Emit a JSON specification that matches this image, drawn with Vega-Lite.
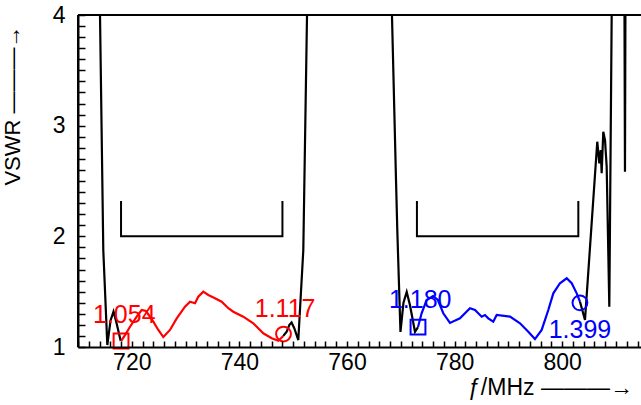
{
  "$schema": "https://vega.github.io/schema/vega-lite/v6.json",
  "width": 563,
  "height": 332,
  "autosize": {"type": "none"},
  "padding": {"left": 78, "top": 15, "right": 0, "bottom": 58},
  "background": "white",
  "config": {
    "view": {"stroke": null, "fill": null},
    "font": "Liberation Sans"
  },
  "datasets": {
    "curve": [
      {"s": "k1", "c": "black", "f": 713.95, "v": 4.5},
      {"s": "k1", "c": "black", "f": 714.09, "v": 4.0},
      {"s": "k1", "c": "black", "f": 714.7, "v": 1.876},
      {"s": "k1", "c": "black", "f": 715.45, "v": 1.018},
      {"s": "k1", "c": "black", "f": 716.05, "v": 1.24},
      {"s": "k1", "c": "black", "f": 716.6, "v": 1.32},
      {"s": "k1", "c": "black", "f": 717.15, "v": 1.22},
      {"s": "k1", "c": "black", "f": 717.94, "v": 1.054},
      {"s": "r", "c": "#ff0000", "f": 718.0, "v": 1.054},
      {"s": "r", "c": "#ff0000", "f": 718.74, "v": 1.108},
      {"s": "r", "c": "#ff0000", "f": 719.67, "v": 1.183},
      {"s": "r", "c": "#ff0000", "f": 720.91, "v": 1.274},
      {"s": "r", "c": "#ff0000", "f": 721.84, "v": 1.334},
      {"s": "r", "c": "#ff0000", "f": 722.64, "v": 1.325},
      {"s": "r", "c": "#ff0000", "f": 724.0, "v": 1.229},
      {"s": "r", "c": "#ff0000", "f": 724.93, "v": 1.154},
      {"s": "r", "c": "#ff0000", "f": 725.86, "v": 1.09},
      {"s": "r", "c": "#ff0000", "f": 727.1, "v": 1.154},
      {"s": "r", "c": "#ff0000", "f": 728.35, "v": 1.259},
      {"s": "r", "c": "#ff0000", "f": 729.89, "v": 1.364},
      {"s": "r", "c": "#ff0000", "f": 730.82, "v": 1.409},
      {"s": "r", "c": "#ff0000", "f": 731.75, "v": 1.395},
      {"s": "r", "c": "#ff0000", "f": 732.36, "v": 1.455},
      {"s": "r", "c": "#ff0000", "f": 733.29, "v": 1.5},
      {"s": "r", "c": "#ff0000", "f": 734.22, "v": 1.47},
      {"s": "r", "c": "#ff0000", "f": 735.46, "v": 1.44},
      {"s": "r", "c": "#ff0000", "f": 736.71, "v": 1.409},
      {"s": "r", "c": "#ff0000", "f": 737.94, "v": 1.35},
      {"s": "r", "c": "#ff0000", "f": 738.87, "v": 1.319},
      {"s": "r", "c": "#ff0000", "f": 740.72, "v": 1.274},
      {"s": "r", "c": "#ff0000", "f": 742.58, "v": 1.214},
      {"s": "r", "c": "#ff0000", "f": 744.44, "v": 1.124},
      {"s": "r", "c": "#ff0000", "f": 746.0, "v": 1.079},
      {"s": "r", "c": "#ff0000", "f": 747.23, "v": 1.057},
      {"s": "r", "c": "#ff0000", "f": 748.16, "v": 1.1},
      {"s": "k2", "c": "black", "f": 748.16, "v": 1.1},
      {"s": "k2", "c": "black", "f": 748.79, "v": 1.138},
      {"s": "k2", "c": "black", "f": 749.3, "v": 1.2},
      {"s": "k2", "c": "black", "f": 749.7, "v": 1.222},
      {"s": "k2", "c": "black", "f": 750.2, "v": 1.17},
      {"s": "k2", "c": "black", "f": 750.95, "v": 1.063},
      {"s": "k2", "c": "black", "f": 751.88, "v": 1.876},
      {"s": "k2", "c": "black", "f": 752.57, "v": 4.0},
      {"s": "k2", "c": "black", "f": 752.7, "v": 4.5},
      {"s": "k3", "c": "black", "f": 768.25, "v": 4.5},
      {"s": "k3", "c": "black", "f": 768.36, "v": 4.0},
      {"s": "k3", "c": "black", "f": 769.11, "v": 2.51},
      {"s": "k3", "c": "black", "f": 769.35, "v": 2.057},
      {"s": "k3", "c": "black", "f": 769.94, "v": 1.136},
      {"s": "k3", "c": "black", "f": 770.5, "v": 1.4},
      {"s": "k3", "c": "black", "f": 771.1, "v": 1.497},
      {"s": "k3", "c": "black", "f": 771.7, "v": 1.38},
      {"s": "k3", "c": "black", "f": 772.64, "v": 1.138},
      {"s": "k3", "c": "black", "f": 773.2, "v": 1.18},
      {"s": "b", "c": "#0000ff", "f": 773.2, "v": 1.18},
      {"s": "b", "c": "#0000ff", "f": 773.87, "v": 1.305},
      {"s": "b", "c": "#0000ff", "f": 774.81, "v": 1.425},
      {"s": "b", "c": "#0000ff", "f": 775.98, "v": 1.46},
      {"s": "b", "c": "#0000ff", "f": 776.9, "v": 1.425},
      {"s": "b", "c": "#0000ff", "f": 777.9, "v": 1.305},
      {"s": "b", "c": "#0000ff", "f": 779.14, "v": 1.217},
      {"s": "b", "c": "#0000ff", "f": 781.0, "v": 1.259},
      {"s": "b", "c": "#0000ff", "f": 782.86, "v": 1.35},
      {"s": "b", "c": "#0000ff", "f": 783.79, "v": 1.334},
      {"s": "b", "c": "#0000ff", "f": 785.04, "v": 1.274},
      {"s": "b", "c": "#0000ff", "f": 785.65, "v": 1.289},
      {"s": "b", "c": "#0000ff", "f": 786.26, "v": 1.259},
      {"s": "b", "c": "#0000ff", "f": 787.19, "v": 1.229},
      {"s": "b", "c": "#0000ff", "f": 787.82, "v": 1.289},
      {"s": "b", "c": "#0000ff", "f": 790.3, "v": 1.274},
      {"s": "b", "c": "#0000ff", "f": 792.16, "v": 1.214},
      {"s": "b", "c": "#0000ff", "f": 793.7, "v": 1.138},
      {"s": "b", "c": "#0000ff", "f": 794.94, "v": 1.072},
      {"s": "b", "c": "#0000ff", "f": 796.19, "v": 1.154},
      {"s": "b", "c": "#0000ff", "f": 797.42, "v": 1.334},
      {"s": "b", "c": "#0000ff", "f": 798.35, "v": 1.485},
      {"s": "b", "c": "#0000ff", "f": 799.59, "v": 1.576},
      {"s": "b", "c": "#0000ff", "f": 800.84, "v": 1.621},
      {"s": "b", "c": "#0000ff", "f": 801.77, "v": 1.576},
      {"s": "b", "c": "#0000ff", "f": 802.7, "v": 1.485},
      {"s": "b", "c": "#0000ff", "f": 803.31, "v": 1.409},
      {"s": "k4", "c": "black", "f": 803.31, "v": 1.409},
      {"s": "k4", "c": "black", "f": 804.24, "v": 1.244},
      {"s": "k4", "c": "black", "f": 806.52, "v": 2.855},
      {"s": "k4", "c": "black", "f": 806.9, "v": 2.66},
      {"s": "k4", "c": "black", "f": 807.16, "v": 2.78},
      {"s": "k4", "c": "black", "f": 807.34, "v": 2.57},
      {"s": "k4", "c": "black", "f": 807.64, "v": 2.945},
      {"s": "k4", "c": "black", "f": 807.96, "v": 2.87},
      {"s": "k4", "c": "black", "f": 808.27, "v": 2.63},
      {"s": "k4", "c": "black", "f": 808.76, "v": 1.364},
      {"s": "k4", "c": "black", "f": 809.2, "v": 4.0},
      {"s": "k4", "c": "black", "f": 809.3, "v": 4.5},
      {"s": "k4", "c": "black", "f": 811.55, "v": 4.5},
      {"s": "k4", "c": "black", "f": 811.67, "v": 2.584},
      {"s": "k4", "c": "black", "f": 811.78, "v": 4.5}
    ],
    "frame": [
      {"s": "top", "o": 1, "f": 710, "v": 4},
      {"s": "top", "o": 2, "f": 814.65, "v": 4},
      {"s": "left", "o": 1, "f": 710, "v": 1},
      {"s": "left", "o": 2, "f": 710, "v": 4}
    ],
    "brackets": [
      {"b": "L", "o": 1, "f": 718, "v": 2.32},
      {"b": "L", "o": 2, "f": 718, "v": 2.0},
      {"b": "L", "o": 3, "f": 748, "v": 2.0},
      {"b": "L", "o": 4, "f": 748, "v": 2.32},
      {"b": "R", "o": 1, "f": 773, "v": 2.32},
      {"b": "R", "o": 2, "f": 773, "v": 2.0},
      {"b": "R", "o": 3, "f": 803, "v": 2.0},
      {"b": "R", "o": 4, "f": 803, "v": 2.32}
    ],
    "markers": [
      {"f": 718.0, "v": 1.054, "shape": "square", "c": "#ff0000"},
      {"f": 748.2, "v": 1.117, "shape": "circle", "c": "#ff0000"},
      {"f": 773.2, "v": 1.18, "shape": "square", "c": "#0000ff"},
      {"f": 803.3, "v": 1.399, "shape": "circle", "c": "#0000ff"}
    ],
    "labels": [
      {"f": 718.6, "v": 1.217, "t": "1.054", "c": "#ff0000"},
      {"f": 748.5, "v": 1.274, "t": "1.117", "c": "#ff0000"},
      {"f": 773.6, "v": 1.35, "t": "1.180", "c": "#0000ff"},
      {"f": 803.3, "v": 1.079, "t": "1.399", "c": "#0000ff"}
    ]
  },
  "encoding": {
    "x": {
      "field": "f", "type": "quantitative",
      "scale": {"domain": [710, 814.65], "nice": false, "zero": false},
      "axis": {
        "values": [710,712,714,716,718,720,722,724,726,728,730,732,734,736,738,740,742,744,746,748,750,752,754,756,758,760,762,764,766,768,770,772,774,776,778,780,782,784,786,788,790,792,794,796,798,800,802,804,806,808,810,812,814],
        "labelExpr": "datum.value % 20 === 0 ? '' + datum.value : ''",
        "zindex": 1,
        "grid": false,
        "domain": true, "domainColor": "#000000", "domainWidth": 2,
        "ticks": true, "tickSize": -6, "tickColor": "#000000", "tickWidth": 1.5,
        "labelFont": "Liberation Sans", "labelFontSize": 23, "labelColor": "#000000",
        "labelPadding": 10, "labelOverlap": false, "labelFlush": false, "labelBound": false,
        "title": "ƒ/MHz ———→",
        "titleFont": "Liberation Sans", "titleFontWeight": "normal", "titleColor": "#000000",
        "titleFontSize": 23,
        "titleX": 472, "titleY": 29, "titleBaseline": "top", "titleAlign": "center"
      }
    },
    "y": {
      "field": "v", "type": "quantitative",
      "scale": {"domain": [1, 4], "nice": false, "zero": false},
      "axis": {
        "values": [1,1.1,1.2,1.3,1.4,1.5,1.6,1.7,1.8,1.9,2,2.1,2.2,2.3,2.4,2.5,2.6,2.7,2.8,2.9,3,3.1,3.2,3.3,3.4,3.5,3.6,3.7,3.8,3.9,4],
        "labelExpr": "abs(datum.value - round(datum.value)) < 0.001 ? format(datum.value, 'd') : ''",
        "zindex": 1,
        "grid": false,
        "domain": true, "domainColor": "#000000", "domainWidth": 2,
        "ticks": true, "tickSize": -7, "tickColor": "#000000", "tickWidth": 1.5,
        "labelFont": "Liberation Sans", "labelFontSize": 23, "labelColor": "#000000",
        "labelPadding": 20, "labelOverlap": false, "labelFlush": false, "labelBound": false,
        "title": "VSWR ———→",
        "titleFont": "Liberation Sans", "titleFontWeight": "normal", "titleColor": "#000000",
        "titleFontSize": 22,
        "titleX": -54, "titleY": 90, "titleAngle": 270, "titleAlign": "center", "titleBaseline": "bottom"
      }
    }
  },
  "layer": [
    {
      "data": {"name": "curve"},
      "mark": {"type": "line", "clip": true, "strokeWidth": 2.2},
      "encoding": {
        "color": {"field": "c", "type": "nominal", "scale": null, "legend": null},
        "detail": {"field": "s"}
      }
    },
    {
      "data": {"name": "frame"},
      "mark": {"type": "line", "color": "black", "strokeWidth": 2},
      "encoding": {
        "detail": {"field": "s"},
        "order": {"field": "o", "type": "quantitative"}
      }
    },
    {
      "data": {"name": "brackets"},
      "mark": {"type": "line", "color": "black", "strokeWidth": 2},
      "encoding": {
        "detail": {"field": "b"},
        "order": {"field": "o", "type": "quantitative"}
      }
    },
    {
      "data": {"name": "markers"},
      "mark": {"type": "point", "filled": false, "strokeWidth": 2, "opacity": 1},
      "encoding": {
        "shape": {"field": "shape", "type": "nominal", "scale": null, "legend": null},
        "size": {"value": 220},
        "color": {"field": "c", "type": "nominal", "scale": null, "legend": null}
      }
    },
    {
      "data": {"name": "labels"},
      "mark": {"type": "text", "font": "Liberation Sans", "fontSize": 25, "align": "center", "baseline": "alphabetic"},
      "encoding": {
        "text": {"field": "t"},
        "color": {"field": "c", "type": "nominal", "scale": null, "legend": null}
      }
    }
  ]
}
